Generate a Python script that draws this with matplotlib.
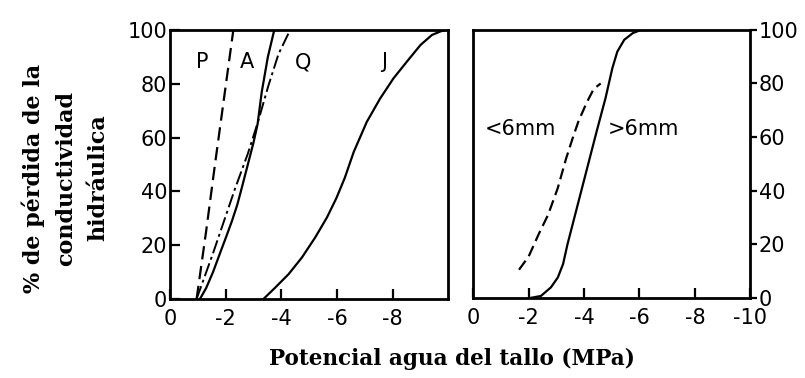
import numpy as np
import matplotlib.pyplot as plt

plt.rcParams['axes.unicode_minus'] = False

# Left panel: species curves (x = stem water potential, MPa; y = % loss)
p_x = [-0.96, -1.3, -1.62, -1.95, -2.28]
p_y = [0, 25, 50, 75, 100]
a_x = [-1.08, -1.3, -1.55, -1.8, -2.0, -2.23, -2.42, -2.6, -2.8, -3.0, -3.15,
       -3.3, -3.52, -3.75]
a_y = [0, 4, 10, 17, 22.5, 29, 35, 42, 50, 58, 65, 77, 90, 100]
q_x = [-0.96, -1.55, -2.34, -2.8, -3.17, -3.53, -3.9, -4.32]
q_y = [0, 17, 41, 54, 66, 79, 91, 100]
j_x = [-3.36, -3.78, -4.26, -4.74, -5.22, -5.64, -5.98, -6.28, -6.6, -7.07,
       -7.55, -8.03, -8.51, -9.0, -9.41, -9.71, -9.9]
j_y = [0, 4.2, 9.2, 15.4, 22.9, 30.3, 37.5, 45, 54.6, 65.8, 74.5, 82, 88.2,
       94.4, 98.1, 99.4, 100]

# Right panel: stem diameter classes
big_x = [-2.07, -2.44, -2.8, -3.05, -3.24, -3.4, -3.65, -3.9, -4.15, -4.45,
         -4.77, -5.02, -5.2, -5.45, -5.76, -6.06]
big_y = [0, 0.7, 3.9, 7.6, 12.6, 20, 30, 40, 50, 62, 74.4, 85.7, 91.9, 96.3,
         98.8, 100]
small_x = [-1.65, -2.0, -2.37, -2.7, -3.05, -3.35, -3.6, -3.8, -4.1, -4.35, -4.6]
small_y = [10.5, 15.5, 24, 31, 41, 52, 60, 66, 73, 78, 80]

yticks = [0, 20, 40, 60, 80, 100]
left_xticks = [0, -2, -4, -6, -8]
right_xticks = [0, -2, -4, -6, -8, -10]

fig = plt.figure(figsize=(8.05, 3.78), dpi=100)
ax1 = fig.add_axes([0.211, 0.209, 0.346, 0.712])
ax2 = fig.add_axes([0.588, 0.212, 0.344, 0.709])

ax1.plot(p_x, p_y, 'k', lw=1.6, dashes=(6, 3))
ax1.plot(a_x, a_y, 'k-', lw=1.6)
ax1.plot(q_x, q_y, 'k', lw=1.4, dashes=(7, 2, 1.5, 2))
ax1.plot(j_x, j_y, 'k-', lw=1.6)

for lab, xx in [('P', -1.15), ('A', -2.77), ('Q', -4.8), ('J', -7.7)]:
    ax1.text(xx, 88, lab, fontsize=15, ha='center', va='center')

ax2.plot(big_x, big_y, 'k-', lw=1.6)
ax2.plot(small_x, small_y, 'k', lw=1.6, dashes=(5, 2.5))
ax2.text(-1.7, 63, '<6mm', fontsize=15, ha='center', va='center')
ax2.text(-4.85, 63, '>6mm', fontsize=15, ha='left', va='center')

for ax, xt in [(ax1, left_xticks), (ax2, right_xticks)]:
    ax.set_xlim(0, -10)
    ax.set_ylim(0, 100)
    ax.set_xticks(xt)
    ax.set_yticks(yticks)
    ax.tick_params(direction='in', length=7, width=1.6, labelsize=15)
    ax.tick_params(axis='x', pad=7)
    for s in ax.spines.values():
        s.set_linewidth(2)

ax1.tick_params(axis='y', pad=2)
ax2.yaxis.tick_right()
ax2.tick_params(axis='y', direction='out', length=5, pad=1)

fig.text(0.081, 0.529, '% de pérdida de la\nconductividad\nhidráulica',
         rotation=90, ha='center', va='center', family='DejaVu Serif',
         fontweight='bold', fontsize=16, linespacing=1.6)
fig.text(0.562, 0.05, 'Potencial agua del tallo (MPa)', ha='center',
         va='center', family='DejaVu Serif', fontweight='bold', fontsize=15.5)

fig.savefig('out.png', dpi=100)
